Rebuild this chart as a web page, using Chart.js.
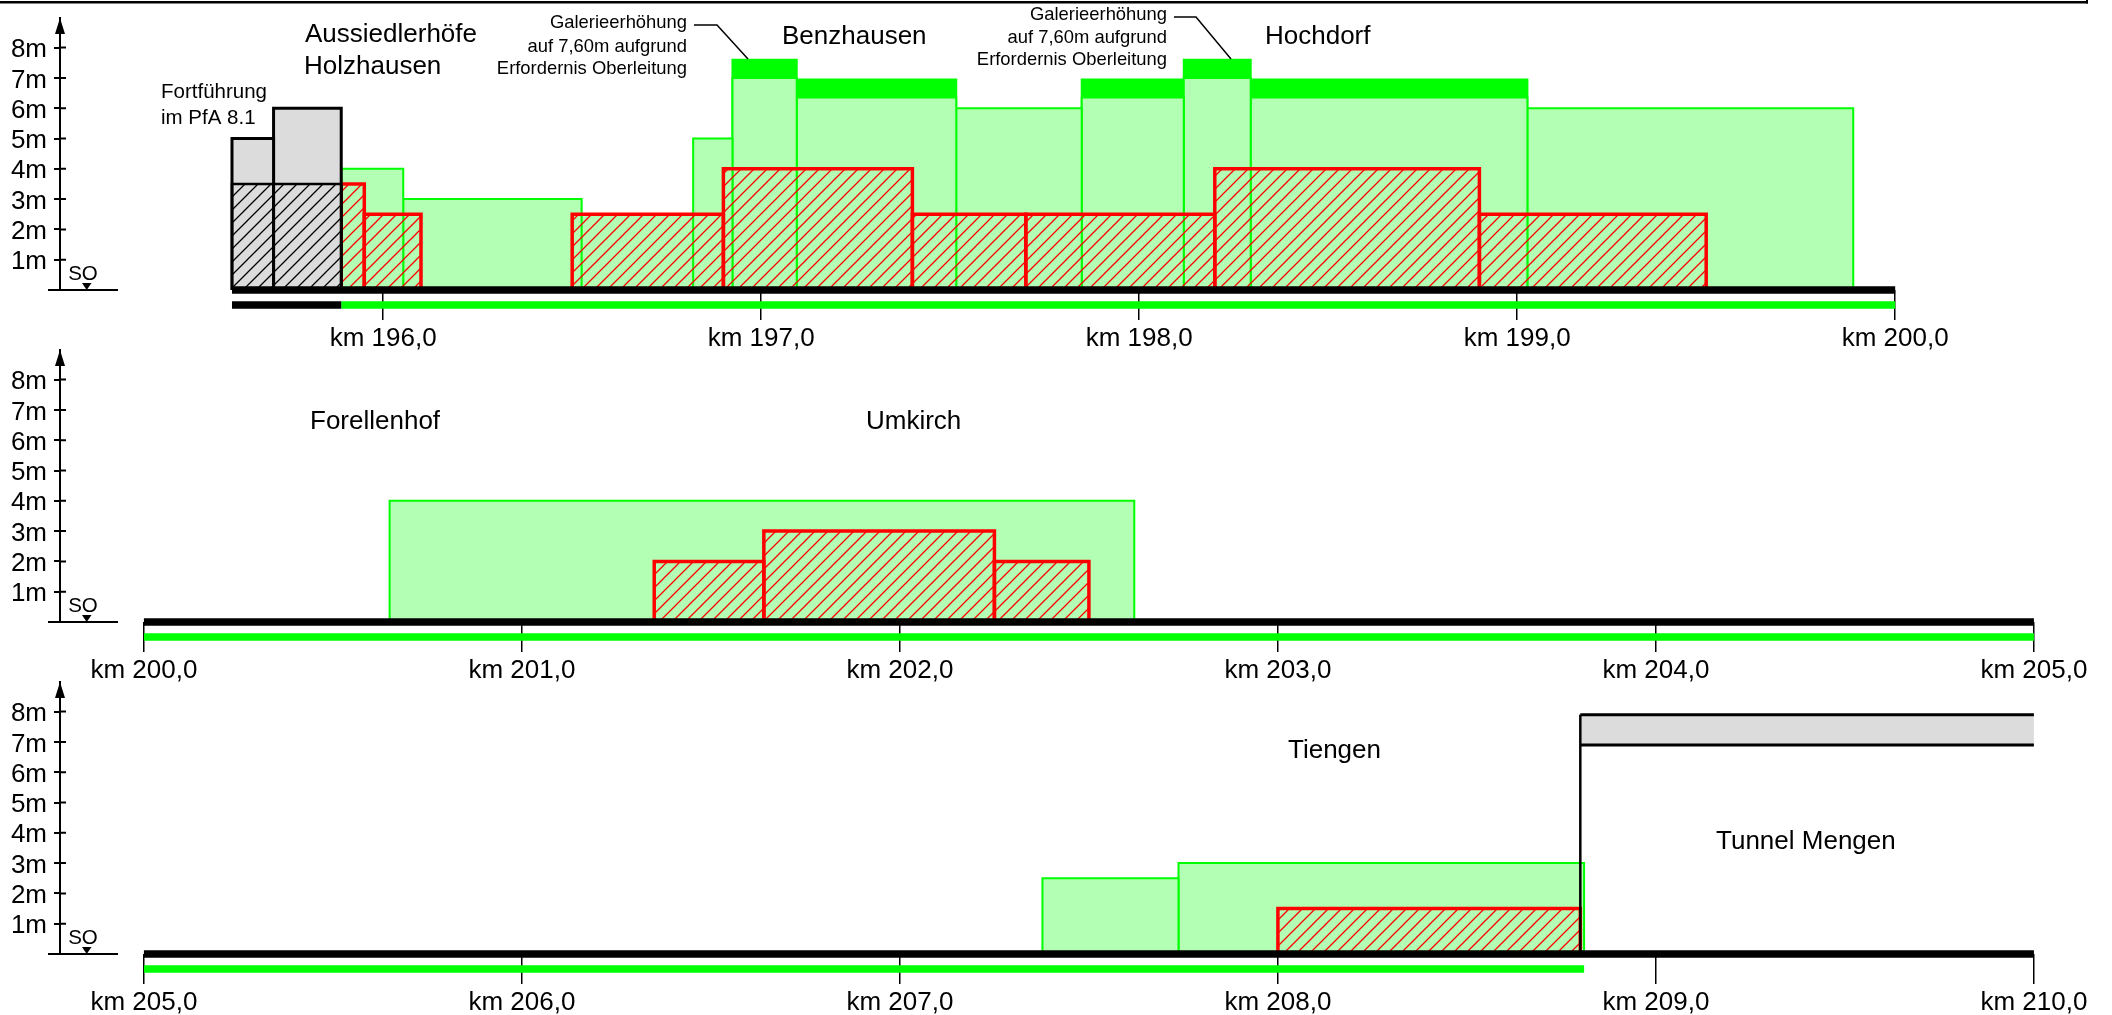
<!DOCTYPE html>
<html lang="de">
<head>
    <meta charset="UTF-8">
    <title>Lärmschutz Höhenprofil</title>
    <style>
        html, body {
            margin: 0;
            background: #fff;
            overflow: hidden;
        }
        canvas {
            position: absolute;
            left: 0;
        }
    </style>
</head>
<body>
    <canvas id="panel1" width="2112" height="350" style="top:0"></canvas>
    <canvas id="panel2" width="2112" height="350" style="top:332px"></canvas>
    <canvas id="panel3" width="2112" height="351" style="top:664px"></canvas>

    <script src="https://cdn.jsdelivr.net/npm/chart.js"></script>
    <script>
        // Werte je Abschnitt: [von km, bis km, Höhe m]
        const green1 = [
            [195.889, 196.053, 4], [196.053, 196.525, 3], [196.82, 196.924, 5],
            [196.924, 197.094, 7], [197.094, 197.516, 6.35], [197.516, 197.848, 6],
            [197.848, 198.118, 6.35], [198.118, 198.295, 7], [198.295, 199.027, 6.35],
            [199.027, 199.889, 6]
        ];
        const caps1 = [
            [196.924, 197.094, 7.6], [197.094, 197.516, 6.95], [197.848, 198.118, 6.95],
            [198.118, 198.295, 7.6], [198.295, 199.027, 6.95]
        ];
        const red1 = [
            [195.889, 195.95, 3.5], [195.95, 196.1, 2.5], [196.5, 196.9, 2.5],
            [196.9, 197.4, 4], [197.4, 197.7, 2.5], [197.7, 198.2, 2.5],
            [198.2, 198.9, 4], [198.9, 199.5, 2.5]
        ];
        const grey1 = [[195.6, 195.71, 5], [195.71, 195.889, 6]];
        const greyHatch1 = [[195.6, 195.71, 3.5], [195.71, 195.889, 3.5]];

        const green2 = [[200.65, 202.62, 4]];
        const red2 = [[201.35, 201.64, 2], [201.64, 202.25, 3], [202.25, 202.5, 2]];

        const green3 = [[207.377, 207.737, 2.5], [207.737, 208.81, 3]];
        const red3 = [[208, 208.8, 1.5]];
        const tunnel3 = [208.8, 210, 6.9, 7.9];

        // Gleis oben und Spur darunter: [von km, bis km]
        const track1 = [195.6, 200];
        const track2 = [200, 205];
        const track3 = [205, 210];
        const lowerBlack1 = [195.6, 195.889];
        const lowerGreen1 = [195.889, 200];
        const lowerGreen2 = [200, 205];
        const lowerGreen3 = [205, 208.81];

        const kmTicks1 = [196, 197, 198, 199, 200];
        const kmTicks2 = [200, 201, 202, 203, 204, 205];
        const kmTicks3 = [205, 206, 207, 208, 209, 210];
        const heightTicks = [1, 2, 3, 4, 5, 6, 7, 8];

        // Beschriftung: [Text, x, y, Schriftgröße, Ausrichtung]
        const notes1 = [
            ['Aussiedlerhöfe', 305, 35, 26, 'left'],
            ['Holzhausen', 304, 67, 26, 'left'],
            ['Fortführung', 161, 92, 20.5, 'left'],
            ['im PfA 8.1', 161, 118, 20.5, 'left'],
            ['Galerieerhöhung', 687, 23, 18.4, 'right'],
            ['auf 7,60m aufgrund', 687, 47, 18.4, 'right'],
            ['Erfordernis Oberleitung', 687, 69, 18.4, 'right'],
            ['Benzhausen', 782, 37, 26, 'left'],
            ['Galerieerhöhung', 1167, 15, 18.4, 'right'],
            ['auf 7,60m aufgrund', 1167, 38, 18.4, 'right'],
            ['Erfordernis Oberleitung', 1167, 60, 18.4, 'right'],
            ['Hochdorf', 1265, 37, 26, 'left']
        ];
        const notes2 = [
            ['Forellenhof', 310, 90, 26, 'left'],
            ['Umkirch', 866, 90, 26, 'left']
        ];
        const notes3 = [
            ['Tiengen', 1288, 87, 26, 'left'],
            ['Tunnel Mengen', 1716, 178, 26, 'left']
        ];
        const leaders1 = [
            [[694, 25], [717, 25], [748, 59]],
            [[1174, 17], [1196, 17], [1231, 59]]
        ];

        const FONT = '"Liberation Sans", Arial, sans-serif';
        const LIGHT = '#b3ffb3';
        const GREEN = '#00ff00';
        const RED = '#ff0000';
        const GREY = '#dcdcdc';
        const LOWER_Y = -0.495;

        function hatch(color) {
            const tile = document.createElement('canvas');
            tile.width = 13;
            tile.height = 13;
            const c = tile.getContext('2d');
            c.strokeStyle = color;
            c.lineWidth = 1.3;
            c.beginPath();
            c.moveTo(-2, 15);
            c.lineTo(15, -2);
            c.moveTo(-2, 2);
            c.lineTo(2, -2);
            c.moveTo(11, 15);
            c.lineTo(15, 11);
            c.stroke();
            return c.createPattern(tile, 'repeat');
        }
        const redHatch = hatch(RED);
        const blackHatch = hatch('#000');

        function rect(span, style) {
            const [a, b, h] = span;
            return Object.assign({
                data: [{x: a, y: 0}, {x: a, y: h}, {x: b, y: h}, {x: b, y: 0}],
                showLine: true,
                pointRadius: 0,
                fill: 'origin',
                clip: false,
                borderJoinStyle: 'miter'
            }, style);
        }

        function line(points, color, width, order) {
            return {
                data: points.map(p => ({x: p[0], y: p[1]})),
                showLine: true,
                pointRadius: 0,
                fill: false,
                clip: false,
                borderColor: color,
                borderWidth: width,
                borderCapStyle: 'butt',
                borderJoinStyle: 'miter',
                order: order
            };
        }

        function spans(list, style) {
            return list.map(s => rect(s, style));
        }

        // höhere order wird zuerst gezeichnet
        function layers(green, red, caps) {
            return [
                ...spans(red, {backgroundColor: LIGHT, borderWidth: 0, order: 9}),
                ...spans(caps, {backgroundColor: GREEN, borderColor: GREEN, borderWidth: 2, order: 8}),
                ...spans(green, {backgroundColor: LIGHT, borderColor: GREEN, borderWidth: 2, order: 7}),
                ...spans(red, {backgroundColor: redHatch, borderColor: RED, borderWidth: 3.5, order: 6})
            ];
        }

        function track(top, lower) {
            const rows = [line([[top[0], 0], [top[1], 0]], '#000', 7.5, 1)];
            lower.forEach(l => rows.push(line([[l[0], LOWER_Y], [l[1], LOWER_Y]], l[2], 7.5, 2)));
            return rows;
        }

        // Achse, Pfeil, SO-Marke und freie Beschriftung
        const decor = {
            id: 'decor',
            afterDraw(chart, args, opts) {
                const c = chart.ctx;
                const ys = chart.scales.y;
                const base = ys.getPixelForValue(0);
                const ax = ys.right;
                c.save();
                c.strokeStyle = '#000';
                c.fillStyle = '#000';
                c.lineWidth = 2;
                c.beginPath();
                heightTicks.forEach(t => {
                    const y = ys.getPixelForValue(t);
                    c.moveTo(ax, y);
                    c.lineTo(ax + 6, y);
                });
                c.moveTo(48, base);
                c.lineTo(118, base);
                c.stroke();

                c.beginPath();
                c.moveTo(ax, ys.top);
                c.lineTo(ax - 5, ys.top + 16);
                c.lineTo(ax + 5, ys.top + 16);
                c.closePath();
                c.fill();

                c.beginPath();
                c.moveTo(82, base - 7);
                c.lineTo(91.5, base - 7);
                c.lineTo(86.7, base);
                c.closePath();
                c.fill();

                c.textBaseline = 'middle';
                c.textAlign = 'center';
                c.font = '20.5px ' + FONT;
                c.fillText('SO', 83, base - 16);

                (opts.notes || []).forEach(n => {
                    c.font = n[3] + 'px ' + FONT;
                    c.textAlign = n[4];
                    c.fillText(n[0], n[1], n[2]);
                });

                c.lineWidth = 1.5;
                (opts.leaders || []).forEach(l => {
                    c.beginPath();
                    l.forEach((p, i) => i ? c.lineTo(p[0], p[1]) : c.moveTo(p[0], p[1]));
                    c.stroke();
                });

                if (opts.frame) {
                    c.fillRect(0, 1, 2088, 2.5);
                    c.fillRect(2086, 0, 2, 3.5);
                }
                c.restore();
            }
        };

        function drawPanel(id, kmMin, kmTicks, datasets, notes, leaders, frame) {
            new Chart(document.getElementById(id), {
                type: 'scatter',
                data: {datasets: datasets},
                plugins: [decor],
                options: {
                    responsive: false,
                    animation: false,
                    devicePixelRatio: 1,
                    layout: {padding: {top: 18, right: 48.6, left: 0, bottom: id === 'panel3' ? 1 : 0}},
                    plugins: {
                        legend: {display: false},
                        tooltip: {enabled: false},
                        decor: {notes: notes, leaders: leaders, frame: frame}
                    },
                    scales: {
                        x: {
                            type: 'linear',
                            min: kmMin,
                            max: kmMin + 5.3,
                            afterBuildTicks: s => { s.ticks = kmTicks.map(v => ({value: v})); },
                            afterFit: s => {
                                s.height = 60;
                                s.paddingLeft = 0;
                                s.paddingRight = 0;
                            },
                            border: {display: false},
                            grid: {drawOnChartArea: false, tickLength: 30, color: '#000', lineWidth: 1.5},
                            ticks: {
                                autoSkip: false,
                                maxRotation: 0,
                                padding: 3.5,
                                color: '#000',
                                font: {family: FONT, size: 26},
                                callback: v => 'km ' + v.toFixed(1).replace('.', ',')
                            }
                        },
                        y: {
                            type: 'linear',
                            min: 0,
                            max: 8.977,
                            afterBuildTicks: s => { s.ticks = heightTicks.map(v => ({value: v})); },
                            afterFit: s => {
                                s.width = 60;
                                s.paddingTop = 0;
                                s.paddingBottom = 0;
                            },
                            border: {display: true, color: '#000', width: 2},
                            grid: {drawOnChartArea: false, tickLength: 6, color: '#000', lineWidth: 2},
                            ticks: {
                                padding: 7,
                                labelOffset: 2.5,
                                color: '#000',
                                font: {family: FONT, size: 26},
                                callback: v => v + 'm'
                            }
                        }
                    }
                }
            });
        }

        const sets1 = [
            ...layers(green1, red1, caps1),
            ...spans(grey1, {backgroundColor: GREY, borderColor: '#000', borderWidth: 3, order: 5}),
            ...spans(greyHatch1, {backgroundColor: blackHatch, borderColor: '#000', borderWidth: 2.5, order: 4}),
            ...track(track1, [[lowerBlack1[0], lowerBlack1[1], '#000'], [lowerGreen1[0], lowerGreen1[1], GREEN]])
        ];
        const sets2 = [
            ...layers(green2, red2, []),
            ...track(track2, [[lowerGreen2[0], lowerGreen2[1], GREEN]])
        ];
        const sets3 = [
            ...layers(green3, red3, []),
            // Tunnel: graues Band mit schwarzer Ober- und Unterkante
            Object.assign(line([[tunnel3[0], tunnel3[3]], [tunnel3[1], tunnel3[3]]], '#000', 3, 5),
                {fill: {value: tunnel3[2]}, backgroundColor: GREY}),
            line([[tunnel3[0], tunnel3[2]], [tunnel3[1], tunnel3[2]]], '#000', 3, 4),
            line([[tunnel3[0], 0], [tunnel3[0], tunnel3[3]]], '#000', 2.5, 3),
            ...track(track3, [[lowerGreen3[0], lowerGreen3[1], GREEN]])
        ];

        drawPanel('panel1', 195.145, kmTicks1, sets1, notes1, leaders1, true);
        drawPanel('panel2', 199.778, kmTicks2, sets2, notes2, [], false);
        drawPanel('panel3', 204.778, kmTicks3, sets3, notes3, [], false);
    </script>
</body>
</html>
